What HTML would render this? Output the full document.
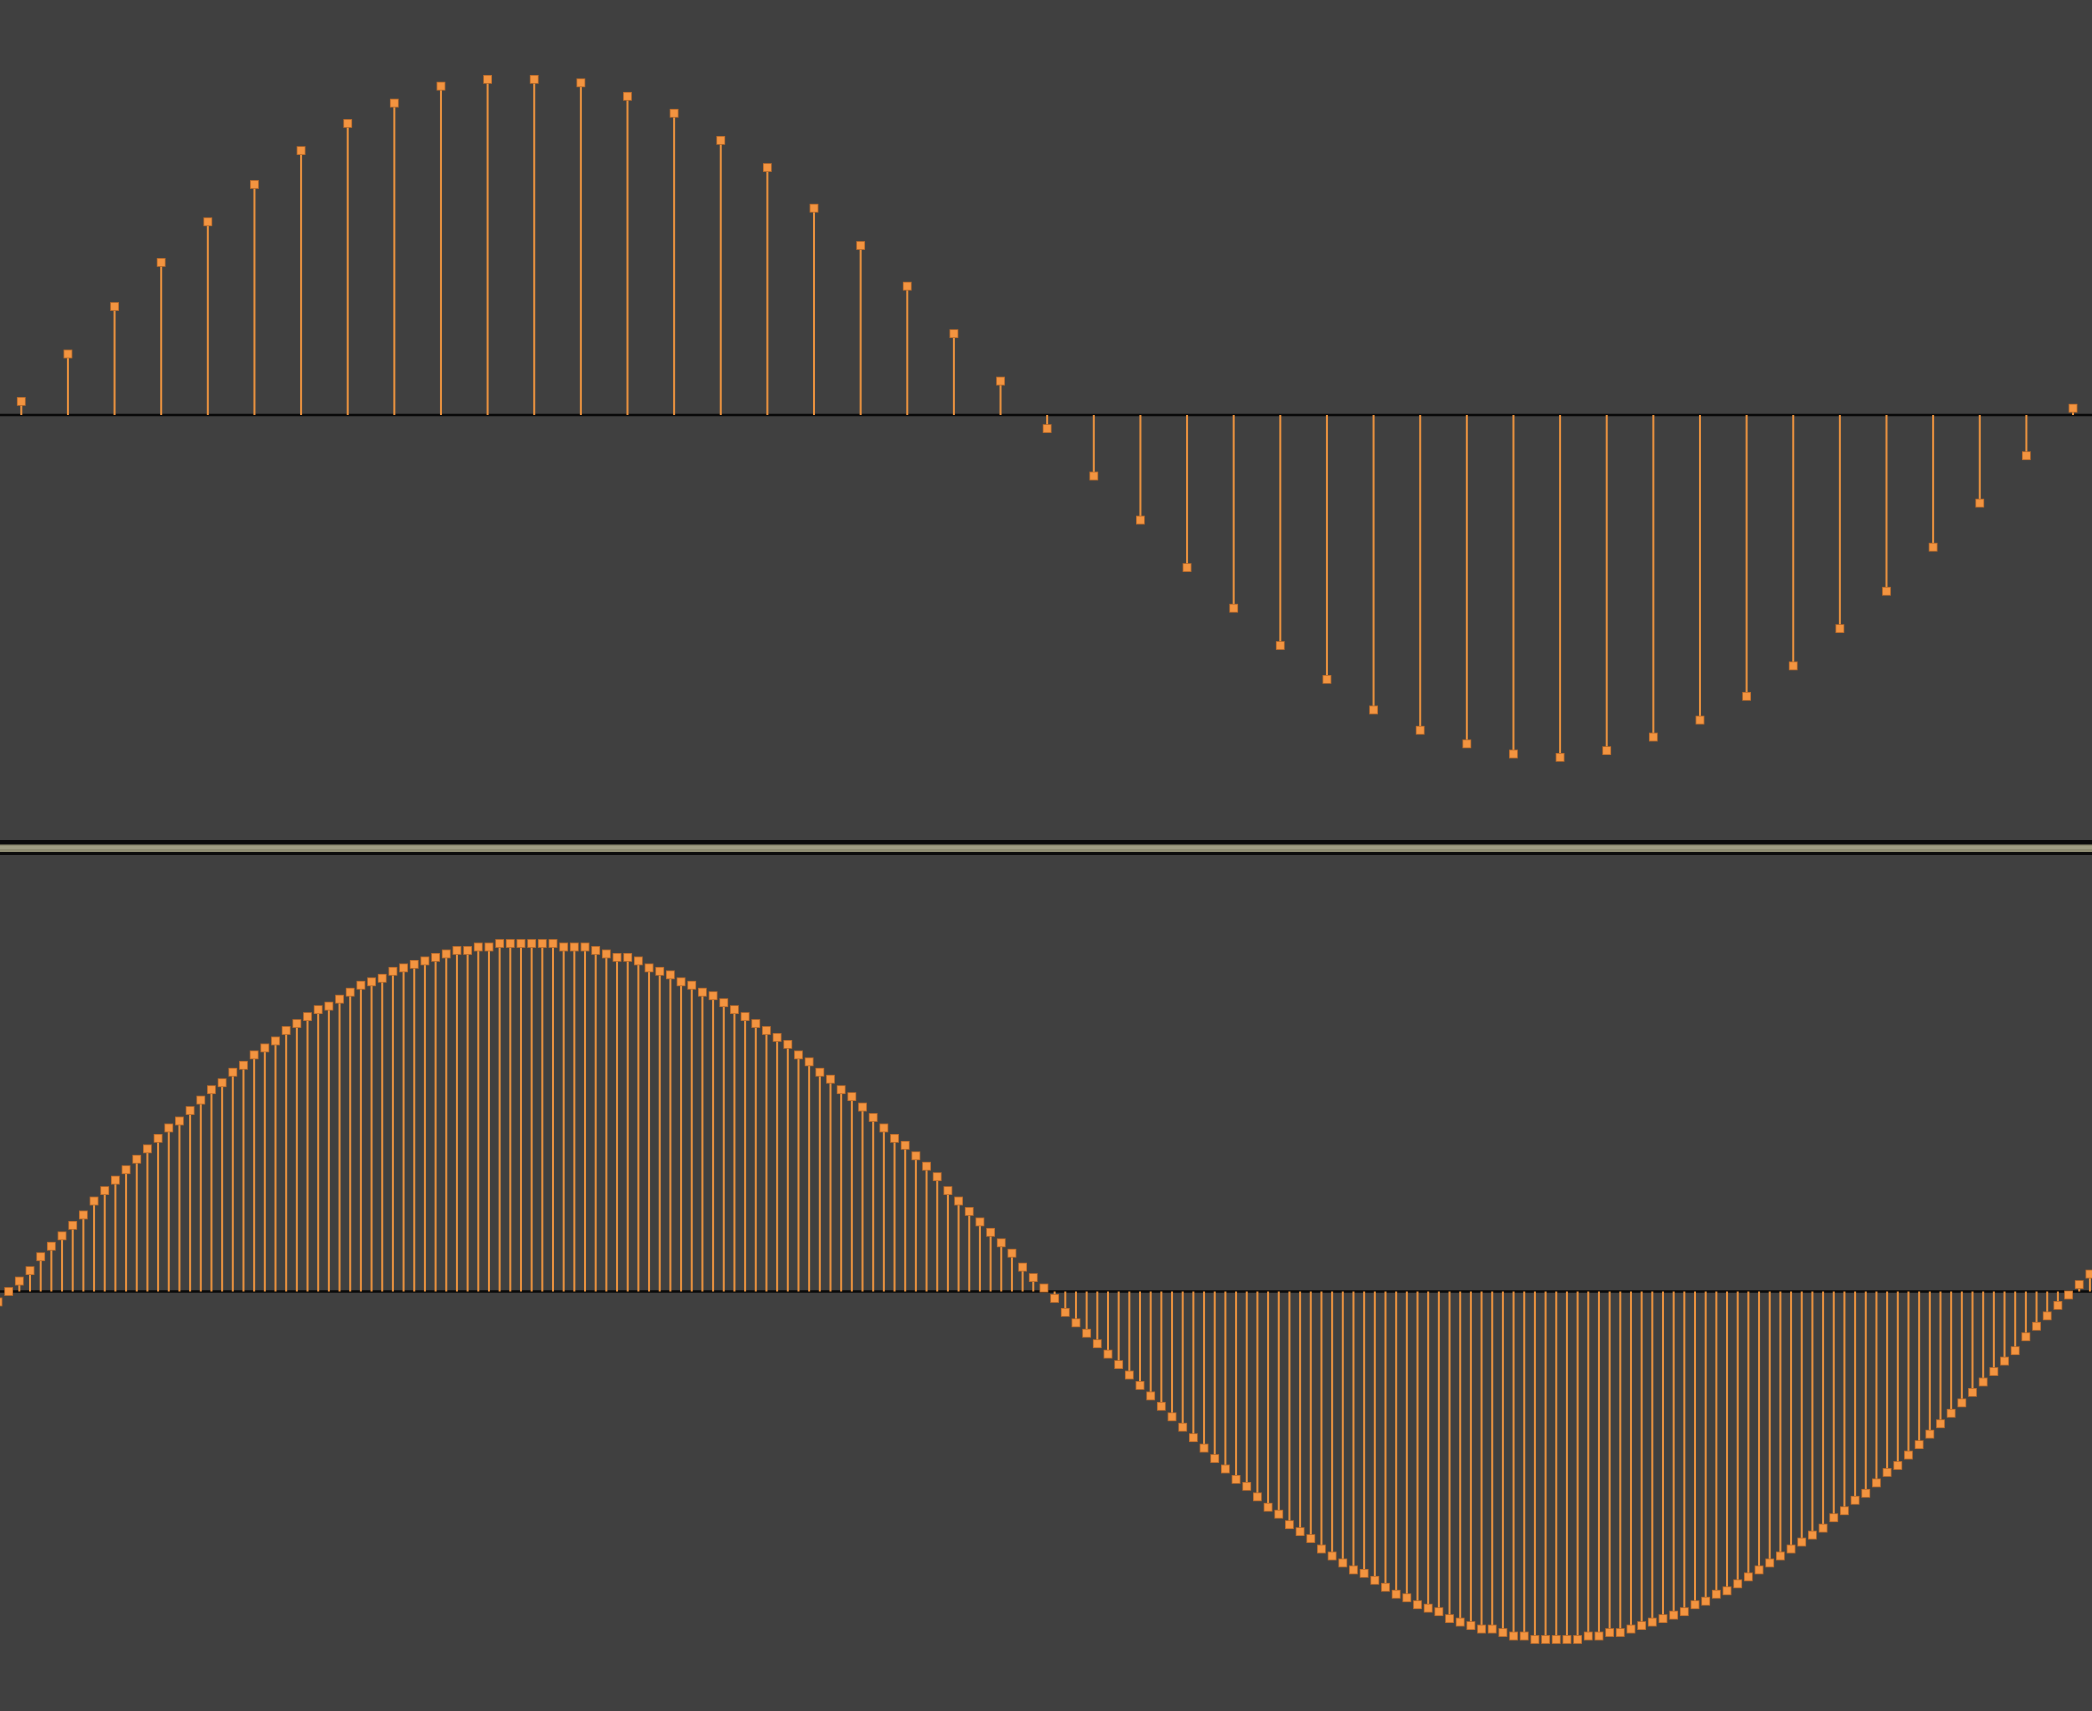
<!DOCTYPE html>
<html><head><meta charset="utf-8">
<style>
html,body{margin:0;padding:0;background:#404040;}
svg{display:block;}
</style></head>
<body>
<svg id="chart" width="2092" height="1711" viewBox="0 0 2092 1711" xmlns="http://www.w3.org/2000/svg">
<rect x="0" y="0" width="2092" height="1711" fill="#404040"/>
<g id="top"></g>
<g>
<rect x="0" y="840" width="2092" height="15" fill="#0c0c0c"/>
<rect x="0" y="844.5" width="2092" height="7.5" fill="#8e8c72"/>
<rect x="0" y="846" width="2092" height="3" fill="#a09e84"/>
</g>
<g id="bottom"></g>
</svg>
<script>
const topValues = [0.04,0.18,0.32,0.45,0.57,0.68,0.78,0.86,0.92,0.97,0.99,0.99,0.98,0.94,0.89,0.81,0.73,0.61,0.50,0.38,0.24,0.10,-0.04,-0.18,-0.31,-0.45,-0.57,-0.68,-0.78,-0.87,-0.93,-0.97,-1.00,-1.01,-0.99,-0.95,-0.90,-0.83,-0.74,-0.63,-0.52,-0.39,-0.26,-0.12,0.02];
const bottomValues = [-0.03,
0,.03,.06,.10,.13,.16,.19,.22,.26,.29,.32,.35,.38,.41,.44,.47,.49,.52,.55,.58,.60,.63,.65,.68,.70,.72,.75,.77,.79,.81,.82,.84,.86,.88,.89,.90,.92,.93,.94,.95,.96,.97,.98,.98,.99,.99,1,1,1,
1,1,1,.99,.99,.99,.98,.97,.96,.96,.95,.93,.92,.91,.89,.88,.86,.85,.83,.81,.79,.77,.75,.73,.71,.68,.66,.63,.61,.58,.56,.53,.50,.47,.44,.42,.39,.36,.33,.29,.26,.23,.20,.17,.14,.11,.07,.04,.01,
-.02,-.06,-.09,-.12,-.15,-.18,-.21,-.24,-.27,-.30,-.33,-.36,-.39,-.42,-.45,-.48,-.51,-.54,-.56,-.59,-.62,-.64,-.67,-.69,-.71,-.74,-.76,-.78,-.80,-.81,-.83,-.85,-.87,-.88,-.90,-.91,-.92,-.94,-.95,-.96,-.97,-.97,-.98,-.99,-.99,-1,-1,-1,
-1,-1,-.99,-.99,-.98,-.98,-.97,-.96,-.95,-.94,-.93,-.92,-.90,-.89,-.87,-.86,-.84,-.82,-.80,-.78,-.76,-.74,-.72,-.70,-.68,-.65,-.63,-.60,-.58,-.55,-.52,-.50,-.47,-.44,-.41,-.38,-.35,-.32,-.29,-.26,-.23,-.20,-.17,-.13,-.10,-.07,-.04,-.01,
.02,.05];

const NS = "http://www.w3.org/2000/svg";
function mk(tag, attrs){const e=document.createElementNS(NS,tag);for(const k in attrs)e.setAttribute(k,attrs[k]);return e;}

function drawPanel(g, values, x0, dx, base, amp, name){
  const xScale = i => x0 + dx*i;
  const yScale = v => base - v*amp;
  const axis = mk('line',{x1:0,x2:2092,y1:base,y2:base,stroke:'#0a0a0a','stroke-width':2.6});
  
  
  g.appendChild(axis);
  values.forEach((v,i)=>{
    const x = xScale(i), y = yScale(v);
    const stem = mk('line',{x1:x,x2:x,y1:base,y2:y,stroke:'#e8913f','stroke-width':2});
    
    
    g.appendChild(stem);
  });
  values.forEach((v,i)=>{
    const x = xScale(i), y = yScale(v);
    const m = mk('rect',{x:x-4,y:y-4,width:8,height:8,fill:'#f39440',stroke:'#b86a2a','stroke-width':0.8});
    
    
    g.appendChild(m);
  });
}
drawPanel(document.getElementById('top'), topValues, 21.3, 46.63, 415, 339, 'top');
drawPanel(document.getElementById('bottom'), bottomValues, -2, 10.673, 1291.5, 348, 'bottom');
</script>
</body></html>
